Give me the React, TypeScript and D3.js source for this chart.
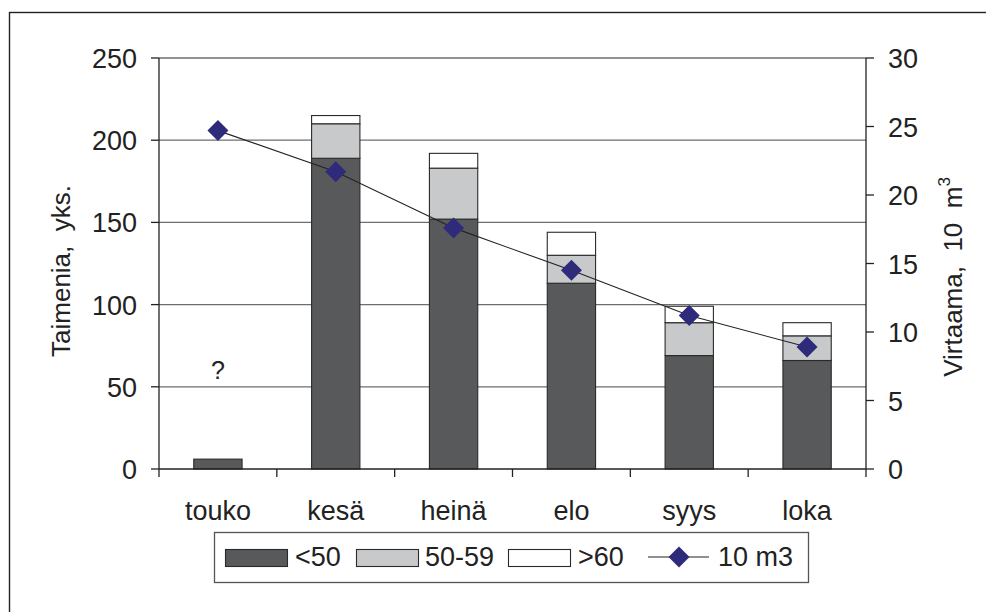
import React from "react";
import * as d3 from "d3";

const categories = ["touko", "kesä", "heinä", "elo", "syys", "loka"];
const under50 = [6, 189, 152, 113, 69, 66];
const s50to59 = [0, 21, 31, 17, 20, 15];
const over60 = [0, 5, 9, 14, 10, 8];
const flow = [24.7, 21.7, 17.6, 14.5, 11.2, 8.9];
const leftTicks = [0, 50, 100, 150, 200, 250];
const rightTicks = [0, 5, 10, 15, 20, 25, 30];

const FONT = "'Liberation Sans', Arial, Helvetica, sans-serif";
const DARK = "#58595b";
const LIGHT = "#c8c9cb";
const NAVY = "#2e2b7a";

export default function App() {
  const L = 159, R = 866, T = 58, B = 469;
  const x = d3.scaleBand<string>().domain(categories).range([L, R]).padding(0);
  const yL = d3.scaleLinear().domain([0, 250]).range([B, T]);
  const yR = d3.scaleLinear().domain([0, 30]).range([B, T]);
  const bw = x.bandwidth() * 0.41;

  const stackData = categories.map((c, i) => ({ c, a: under50[i], b: s50to59[i], d: over60[i] }));
  const stacked = d3.stack<any>().keys(["a", "b", "d"])(stackData);
  const fills = [DARK, LIGHT, "#ffffff"];

  const line = d3
    .line<number>()
    .x((_, i) => (x(categories[i]) as number) + x.bandwidth() / 2)
    .y((v) => yR(v));

  const diamond = (cx: number, cy: number, r: number) =>
    `M${cx},${cy - r}L${cx + r},${cy}L${cx},${cy + r}L${cx - r},${cy}Z`;

  const boundaries = categories.map((c) => x(c) as number).concat([R]);

  return (
    <svg
      width={986}
      height={612}
      style={{ position: "absolute", left: 0, top: 0, background: "#fff" }}
      fontFamily={FONT}
    >
      <rect x={9.5} y={12.5} width={1100} height={700} fill="#fff" stroke="#222" strokeWidth={1.4} />

      {/* gridlines */}
      {leftTicks.filter((t) => t > 0).map((t) => (
        <line key={t} x1={L} x2={R} y1={yL(t)} y2={yL(t)} stroke="#6e6e6e" strokeWidth={1.3} />
      ))}

      {/* bars */}
      {stacked.map((layer, li) =>
        layer.map((seg, i) => {
          const h = yL(seg[0]) - yL(seg[1]);
          if (h <= 0) return null;
          const cx = (x(categories[i]) as number) + x.bandwidth() / 2;
          return (
            <rect
              key={`${li}-${i}`}
              x={cx - bw / 2}
              y={yL(seg[1])}
              width={bw}
              height={h}
              fill={fills[li]}
              stroke="#2a2a2a"
              strokeWidth={1.1}
            />
          );
        })
      )}

      {/* axes */}
      <line x1={L} x2={L} y1={T} y2={B} stroke="#222" strokeWidth={1.3} />
      <line x1={R} x2={R} y1={T} y2={B} stroke="#222" strokeWidth={1.3} />
      <line x1={L} x2={R} y1={B} y2={B} stroke="#222" strokeWidth={1.3} />
      {leftTicks.map((t) => (
        <g key={t}>
          <line x1={L - 8} x2={L} y1={yL(t)} y2={yL(t)} stroke="#222" strokeWidth={1.3} />
          <text x={137} y={yL(t) + 10} textAnchor="end" fontSize={27} fill="#222">
            {t}
          </text>
        </g>
      ))}
      {rightTicks.map((t) => (
        <g key={t}>
          <line x1={R} x2={R + 8} y1={yR(t)} y2={yR(t)} stroke="#222" strokeWidth={1.3} />
          <text x={888} y={yR(t) + 10} textAnchor="start" fontSize={27} fill="#222">
            {t}
          </text>
        </g>
      ))}
      {boundaries.map((bx, i) => (
        <line key={i} x1={bx} x2={bx} y1={B} y2={B + 8} stroke="#222" strokeWidth={1.3} />
      ))}
      {categories.map((c) => (
        <text
          key={c}
          x={(x(c) as number) + x.bandwidth() / 2}
          y={520}
          textAnchor="middle"
          fontSize={27}
          fill="#222"
        >
          {c}
        </text>
      ))}

      {/* line series */}
      <path d={line(flow) || ""} fill="none" stroke="#222" strokeWidth={1.1} />
      {flow.map((v, i) => (
        <path
          key={i}
          d={diamond((x(categories[i]) as number) + x.bandwidth() / 2, yR(v), 10.5)}
          fill={NAVY}
        />
      ))}

      {/* question mark */}
      <text x={(x("touko") as number) + x.bandwidth() / 2} y={379} textAnchor="middle" fontSize={25} fill="#222">
        ?
      </text>

      {/* axis titles */}
      <text
        transform={`translate(70,271) rotate(-90)`}
        textAnchor="middle"
        fontSize={26}
        fill="#222"
        style={{ whiteSpace: "pre" }}
      >
        {"Taimenia,  yks."}
      </text>
      <text
        transform={`translate(962,277) rotate(-90)`}
        textAnchor="middle"
        fontSize={26}
        fill="#222"
        style={{ whiteSpace: "pre" }}
      >
        {"Virtaama,  10  m"}
        <tspan fontSize={17} dy={-12}>
          3
        </tspan>
      </text>

      {/* legend */}
      <rect x={214.5} y={532.5} width={594} height={50} fill="#fff" stroke="#555" strokeWidth={1.3} />
      <rect x={225.5} y={549.5} width={62} height={17} fill={DARK} stroke="#2a2a2a" strokeWidth={1.1} />
      <text x={295} y={566} fontSize={27} fill="#222">&lt;50</text>
      <rect x={356.5} y={549.5} width={62} height={17} fill={LIGHT} stroke="#2a2a2a" strokeWidth={1.1} />
      <text x={425} y={566} fontSize={27} fill="#222">50-59</text>
      <rect x={508.5} y={549.5} width={62} height={17} fill="#fff" stroke="#2a2a2a" strokeWidth={1.1} />
      <text x={578} y={566} fontSize={27} fill="#222">&gt;60</text>
      <line x1={648} x2={709} y1={557} y2={557} stroke="#222" strokeWidth={1.1} />
      <path d={diamond(679, 557, 10.5)} fill={NAVY} />
      <text x={718} y={566} fontSize={27} fill="#222">10 m3</text>
    </svg>
  );
}
